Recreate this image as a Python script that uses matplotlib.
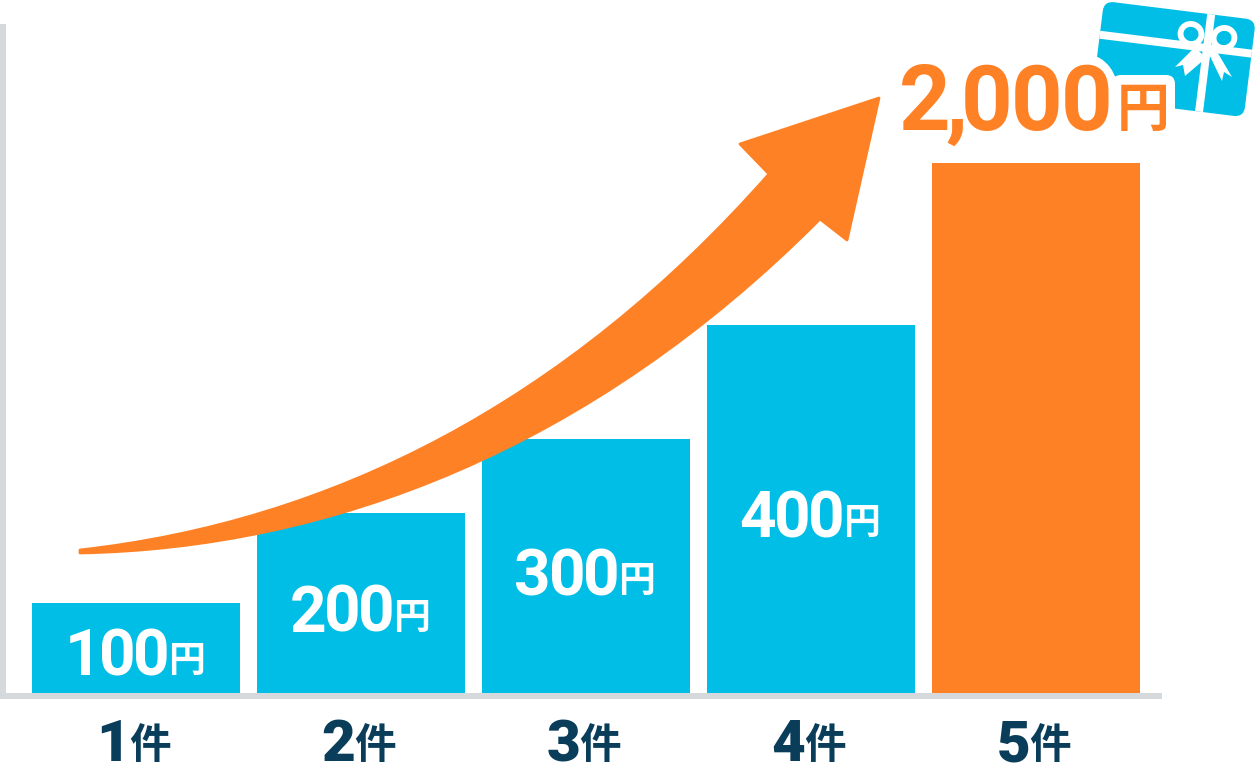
import matplotlib
matplotlib.use("Agg")
import matplotlib.pyplot as plt
from matplotlib.patches import PathPatch, FancyBboxPatch, Polygon, Ellipse
from matplotlib.path import Path
from matplotlib.transforms import Affine2D, ScaledTranslation

plt.rcParams['font.family'] = ['Roboto', 'Noto Sans CJK JP', 'DejaVu Sans']

# Data for plotting
counts = ["1", "2", "3", "4", "5"]
bar_heights = [90, 180, 254, 368, 530]
amounts = ["100", "200", "300", "400", "2,000"]
label_y = [18, 61, 98, 156, 563]

BLUE = "#00bee6"
ORANGE = "#ff8126"
GREY = "#d5d9dc"
NAVY = "#0a3d5a"

fig = plt.figure(figsize=(12.56, 7.63), dpi=100)
ax = fig.add_axes([3 / 1256, (763 - 696) / 763, 1156 / 1256, 669 / 763])
px = Affine2D().scale(1, -1).translate(0, 763)  # decorations in image pixels

xs = list(range(len(counts)))
colors = [BLUE] * 4 + [ORANGE]
ax.bar(xs, bar_heights, width=208 / 225, color=colors, zorder=2)
ax.set_xlim(-133 / 225, 1023 / 225)
ax.set_ylim(-3, 666)

for s in ["top", "right"]:
    ax.spines[s].set_visible(False)
for s in ["left", "bottom"]:
    ax.spines[s].set_color(GREY)
    ax.spines[s].set_linewidth(4.3)
ax.set_yticks([])
ax.set_xticks(xs)
ax.set_xticklabels(counts, fontsize=42, fontweight=900, color=NAVY, ha="right", va="baseline")
ax.tick_params(axis="x", length=0, pad=46.8)
shift = ScaledTranslation(-4 / 72, 0, fig.dpi_scale_trans)
for lab in ax.get_xticklabels():
    lab.set_transform(lab.get_transform() + shift)
for x in xs:
    ax.annotate("件", (x, 0), xycoords=ax.get_xaxis_transform(), xytext=(-5, -44.5), textcoords="offset points",
                ha="left", va="baseline", fontsize=30, fontweight="bold", color=NAVY)


def put_amount(x, y, text, size, last_c, digit_adv, color, **kw):
    # digits are set tighter than the font, so place them one at a time, from the right
    c = last_c
    for i, ch in enumerate(reversed(text)):
        ax.annotate(ch, (x, y), xytext=(c, 0), textcoords="offset points", ha="center", va="baseline",
                    fontsize=size, fontweight="bold", color=color, annotation_clip=False, **kw)
        next_ch = text[-i - 2] if i + 1 < len(text) else "0"
        c -= digit_adv if ch != "," and next_ch != "," else digit_adv * 0.62


# value labels inside the bars
for x, y, a in zip(xs[:4], label_y[:4], amounts[:4]):
    put_amount(x, y, a, 46, 10.7, 24.5, "white", zorder=5)
    ax.annotate("円", (x, y), xytext=(22.8, 2), textcoords="offset points", ha="left", va="baseline",
                fontsize=26.5, fontweight="bold", color="white", zorder=5)

# arrow
verts = [(80, 550), (330, 522), (565, 405), (769, 174), (740, 144), (879, 98),
         (847, 240), (820, 219), (590, 450), (330, 548), (80, 553), (80, 550)]
codes = [Path.MOVETO, Path.CURVE4, Path.CURVE4, Path.CURVE4, Path.LINETO, Path.LINETO,
         Path.LINETO, Path.LINETO, Path.CURVE4, Path.CURVE4, Path.CURVE4, Path.CLOSEPOLY]
ax.add_patch(PathPatch(Path(verts, codes), fc=ORANGE, ec=ORANGE, lw=2, joinstyle="round",
                       transform=px, zorder=4, clip_on=False))

# gift card
rot = Affine2D().rotate_deg(7.1).translate(1104, 1) + px
ax.add_patch(FancyBboxPatch((0, 0), 153, 98, boxstyle="round,pad=0,rounding_size=10", fc=BLUE, ec="none",
                            transform=rot, zorder=3, clip_on=False))
ribbon = dict(fc="white", ec="none", zorder=3.1, clip_on=False)
ax.add_patch(Polygon([(104, 0), (112, 0), (112, 98), (104, 98)], transform=rot, **ribbon))
ax.add_patch(Polygon([(0, 30), (153, 30), (153, 38), (0, 38)], transform=rot, **ribbon))
for center, ang in [((1191, 34), 20), ((1224, 38), -20)]:
    ax.add_patch(Ellipse(center, 21, 20, angle=ang, fc=BLUE, ec="white", lw=4.2,
                         transform=px, zorder=3.2, clip_on=False))
ax.add_patch(Polygon([(1195, 47), (1175, 67), (1183, 65), (1185, 76), (1206, 58)], transform=px, **ribbon))
ax.add_patch(Polygon([(1207, 50), (1222, 81), (1224, 72), (1232, 77), (1216, 50)], transform=px, **ribbon))

# white cut-out of the card behind the last zero and the unit
ax.add_patch(Ellipse((1088, 97), 62, 84, fc="white", ec="none", transform=px, zorder=3.5, clip_on=False))
ax.add_patch(FancyBboxPatch((1112, 75), 63, 64, boxstyle="round,pad=0,rounding_size=9", fc="white", ec="none",
                            transform=px, zorder=3.5, clip_on=False))

# big total label
put_amount(4, label_y[4], amounts[4], 65, 36.7, 36, ORANGE, zorder=6)
ax.annotate("円", (4, label_y[4]), xytext=(58, 3), textcoords="offset points", ha="left", va="baseline",
            fontsize=38, fontweight="bold", color=ORANGE, zorder=6, annotation_clip=False)

fig.savefig("out.png", dpi=100)
